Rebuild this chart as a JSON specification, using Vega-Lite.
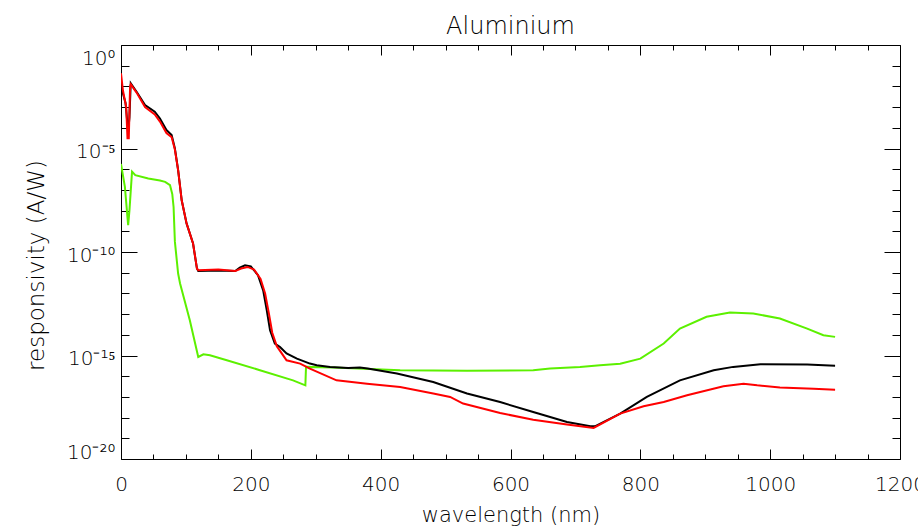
{
  "$schema": "https://vega.github.io/schema/vega-lite/v6.json",
  "width": 779,
  "height": 414,
  "autosize": "none",
  "padding": {"left": 121, "top": 45, "right": 18, "bottom": 71},
  "background": "white",
  "title": {"text": "Aluminium", "fontSize": 24, "font": "DejaVu Sans", "fontWeight": 200, "color": "#000", "anchor": "middle", "baseline": "alphabetic", "offset": 13, "dy": 26},
  "config": {
    "view": {"stroke": null},
    "axis": {"grid": false, "domainColor": "#000", "domainWidth": 1, "tickColor": "#000", "tickWidth": 1, "labelFont": "DejaVu Sans", "labelFontWeight": 200, "labelColor": "#000", "labelFontSize": 20, "titleFont": "DejaVu Sans", "titleFontWeight": 200, "titleColor": "#000", "titleFontSize": 21}
  },
  "datasets": {
    "black": [
      {"wl": 0, "r": 1e-2}, {"wl": 7, "r": 1.585e-3}, {"wl": 11, "r": 6.31e-5}, {"wl": 13, "r": 3.16e-4}, {"wl": 15, "r": 1.413e-2},
      {"wl": 24, "r": 5.5e-3}, {"wl": 37, "r": 1.26e-3}, {"wl": 52, "r": 6.03e-4}, {"wl": 60, "r": 2.82e-4}, {"wl": 70, "r": 7.76e-5},
      {"wl": 78, "r": 4.47e-5}, {"wl": 83, "r": 1e-5}, {"wl": 88, "r": 9.12e-7}, {"wl": 93.5, "r": 3.16e-8}, {"wl": 101, "r": 2.4e-9},
      {"wl": 111, "r": 2.57e-10}, {"wl": 117, "r": 1.585e-11}, {"wl": 119, "r": 1.2e-11}, {"wl": 150, "r": 1.26e-11}, {"wl": 176, "r": 1.2e-11},
      {"wl": 183, "r": 1.78e-11}, {"wl": 191, "r": 2.29e-11}, {"wl": 200, "r": 2.0e-11}, {"wl": 211, "r": 7.59e-12}, {"wl": 219, "r": 1.41e-12},
      {"wl": 224.5, "r": 1.55e-13}, {"wl": 229.6, "r": 1.66e-14}, {"wl": 237, "r": 3.8e-15}, {"wl": 245, "r": 2.57e-15}, {"wl": 255, "r": 1.26e-15},
      {"wl": 271, "r": 7.08e-16}, {"wl": 291, "r": 4.07e-16}, {"wl": 301.5, "r": 3.39e-16}, {"wl": 322, "r": 2.82e-16}, {"wl": 350, "r": 2.51e-16},
      {"wl": 368, "r": 2.6e-16}, {"wl": 380, "r": 2.34e-16}, {"wl": 425, "r": 1.35e-16}, {"wl": 481, "r": 5.25e-17}, {"wl": 533, "r": 1.45e-17},
      {"wl": 584, "r": 5.62e-18}, {"wl": 635, "r": 1.86e-18}, {"wl": 687, "r": 6.17e-19}, {"wl": 723, "r": 3.8e-19}, {"wl": 730, "r": 3.8e-19},
      {"wl": 769, "r": 1.55e-18}, {"wl": 810, "r": 1e-17}, {"wl": 861, "r": 6.31e-17}, {"wl": 913, "r": 1.95e-16}, {"wl": 943, "r": 2.82e-16},
      {"wl": 985, "r": 3.8e-16}, {"wl": 1057, "r": 3.63e-16}, {"wl": 1100, "r": 3.16e-16}
    ],
    "red": [
      {"wl": 0, "r": 4.27e-2}, {"wl": 3, "r": 6.31e-3}, {"wl": 8, "r": 1e-3}, {"wl": 10, "r": 3.16e-5}, {"wl": 12, "r": 3.16e-5},
      {"wl": 14, "r": 1e-2}, {"wl": 15, "r": 1.26e-2}, {"wl": 24, "r": 5.01e-3}, {"wl": 37, "r": 1e-3}, {"wl": 52, "r": 4.47e-4},
      {"wl": 60, "r": 2e-4}, {"wl": 70, "r": 5.62e-5}, {"wl": 78, "r": 3.55e-5}, {"wl": 83, "r": 8.91e-6}, {"wl": 88, "r": 9.12e-7},
      {"wl": 93.5, "r": 3.16e-8}, {"wl": 101, "r": 2.4e-9}, {"wl": 111, "r": 2.57e-10}, {"wl": 117, "r": 1.585e-11}, {"wl": 119, "r": 1.32e-11},
      {"wl": 150, "r": 1.41e-11}, {"wl": 176, "r": 1.2e-11}, {"wl": 185, "r": 1.585e-11}, {"wl": 195, "r": 1.9e-11}, {"wl": 205, "r": 1.41e-11},
      {"wl": 215, "r": 5.01e-12}, {"wl": 222, "r": 1e-12}, {"wl": 228, "r": 1e-13}, {"wl": 233, "r": 1.26e-14}, {"wl": 240, "r": 2.82e-15},
      {"wl": 255, "r": 5.89e-16}, {"wl": 276, "r": 4.07e-16}, {"wl": 291, "r": 2.34e-16}, {"wl": 332, "r": 6.31e-17}, {"wl": 379, "r": 4.37e-17},
      {"wl": 430, "r": 3.02e-17}, {"wl": 481, "r": 1.45e-17}, {"wl": 507, "r": 1e-17}, {"wl": 527, "r": 4.79e-18}, {"wl": 584, "r": 1.66e-18},
      {"wl": 635, "r": 7.94e-19}, {"wl": 687, "r": 4.68e-19}, {"wl": 728, "r": 3.16e-19}, {"wl": 769, "r": 1.55e-18}, {"wl": 805, "r": 3.55e-18},
      {"wl": 836, "r": 5.62e-18}, {"wl": 872, "r": 1.2e-17}, {"wl": 928, "r": 3.24e-17}, {"wl": 959, "r": 4.37e-17}, {"wl": 980, "r": 3.63e-17},
      {"wl": 1015, "r": 2.82e-17}, {"wl": 1067, "r": 2.51e-17}, {"wl": 1100, "r": 2.24e-17}
    ],
    "green": [
      {"wl": 0, "r": 1.78e-6}, {"wl": 6, "r": 1.41e-7}, {"wl": 11, "r": 2e-9}, {"wl": 13, "r": 1e-8}, {"wl": 17, "r": 7.59e-7},
      {"wl": 22, "r": 5.13e-7}, {"wl": 42, "r": 3.55e-7}, {"wl": 60, "r": 2.82e-7}, {"wl": 68, "r": 2.45e-7}, {"wl": 75.5, "r": 1.7e-7},
      {"wl": 79, "r": 6.3e-8}, {"wl": 81, "r": 1.5e-8}, {"wl": 83, "r": 3.16e-10}, {"wl": 88, "r": 9.12e-12}, {"wl": 91, "r": 3.02e-12}, {"wl": 106, "r": 5.01e-14},
      {"wl": 119, "r": 8.51e-16}, {"wl": 127, "r": 1.15e-15}, {"wl": 137, "r": 1.02e-15}, {"wl": 163, "r": 5.89e-16}, {"wl": 214, "r": 1.95e-16},
      {"wl": 265, "r": 6.31e-17}, {"wl": 284, "r": 3.63e-17}, {"wl": 285, "r": 2.82e-16}, {"wl": 327, "r": 2.63e-16}, {"wl": 430, "r": 1.95e-16},
      {"wl": 533, "r": 1.82e-16}, {"wl": 635, "r": 1.95e-16}, {"wl": 661, "r": 2.34e-16}, {"wl": 707, "r": 2.82e-16}, {"wl": 738, "r": 3.39e-16},
      {"wl": 769, "r": 4.0e-16}, {"wl": 800, "r": 7.08e-16}, {"wl": 836, "r": 3.8e-15}, {"wl": 861, "r": 2e-14}, {"wl": 902, "r": 7.41e-14},
      {"wl": 938, "r": 1.2e-13}, {"wl": 974, "r": 1.07e-13}, {"wl": 1015, "r": 6.17e-14}, {"wl": 1057, "r": 2e-14}, {"wl": 1082, "r": 9.55e-15},
      {"wl": 1100, "r": 7.94e-15}
    ]
  },
  "layer": [
    {
      "data": {"name": "green"},
      "mark": {"type": "line", "color": "#5cf000", "strokeWidth": 2, "clip": true},
      "encoding": {
        "x": {"field": "wl", "type": "quantitative", "scale": {"domain": [0, 1200], "nice": false, "zero": false}, "axis": null},
        "y": {"field": "r", "type": "quantitative", "scale": {"type": "log", "domain": [1e-20, 1], "nice": false}, "axis": null}
      }
    },
    {
      "data": {"name": "black"},
      "mark": {"type": "line", "color": "#000000", "strokeWidth": 2, "clip": true},
      "encoding": {
        "x": {"field": "wl", "type": "quantitative", "scale": {"domain": [0, 1200], "nice": false, "zero": false},
          "axis": {"orient": "bottom", "title": "wavelength (nm)",
            "values": [0, 50, 100, 150, 200, 250, 300, 350, 400, 450, 500, 550, 600, 650, 700, 750, 800, 850, 900, 950, 1000, 1050, 1100, 1150, 1200],
            "tickSize": {"condition": {"test": "datum.value % 200 === 0", "value": -10}, "value": -5},
            "labelExpr": "datum.value % 200 === 0 ? format(datum.value, 'd') : ''",
            "labelFlush": false, "labelOverlap": false, "labelPadding": 25, "titlePadding": 5}},
        "y": {"field": "r", "type": "quantitative", "scale": {"type": "log", "domain": [1e-20, 1], "nice": false},
          "axis": {"orient": "left", "title": "responsivity (A/W)", "titleFontSize": 23, "titleY": 220,
            "values": [1, 1e-1, 1e-2, 1e-3, 1e-4, 1e-5, 1e-6, 1e-7, 1e-8, 1e-9, 1e-10, 1e-11, 1e-12, 1e-13, 1e-14, 1e-15, 1e-16, 1e-17, 1e-18, 1e-19, 1e-20],
            "tickSize": {"condition": {"test": "abs(round(log(datum.value)/LN10)) % 5 === 0", "value": -16}, "value": -8},
            "labelExpr": "round(log(datum.value)/LN10) === 0 ? '10⁰' : round(log(datum.value)/LN10) === -5 ? '10⁻⁵' : round(log(datum.value)/LN10) === -10 ? '10⁻¹⁰' : round(log(datum.value)/LN10) === -15 ? '10⁻¹⁵' : round(log(datum.value)/LN10) === -20 ? '10⁻²⁰' : ''",
            "labelFlush": true, "labelOverlap": false, "labelPadding": 22, "labelOffset": 3, "titlePadding": 18}}
      }
    },
    {
      "data": {"name": "red"},
      "mark": {"type": "line", "color": "#ff0000", "strokeWidth": 2, "clip": true},
      "encoding": {
        "x": {"field": "wl", "type": "quantitative", "scale": {"domain": [0, 1200], "nice": false, "zero": false},
          "axis": {"orient": "top", "title": null, "labels": false,
            "values": [0, 50, 100, 150, 200, 250, 300, 350, 400, 450, 500, 550, 600, 650, 700, 750, 800, 850, 900, 950, 1000, 1050, 1100, 1150, 1200],
            "tickSize": {"condition": {"test": "datum.value % 200 === 0", "value": -10}, "value": -5}}},
        "y": {"field": "r", "type": "quantitative", "scale": {"type": "log", "domain": [1e-20, 1], "nice": false},
          "axis": {"orient": "right", "title": null, "labels": false,
            "values": [1, 1e-1, 1e-2, 1e-3, 1e-4, 1e-5, 1e-6, 1e-7, 1e-8, 1e-9, 1e-10, 1e-11, 1e-12, 1e-13, 1e-14, 1e-15, 1e-16, 1e-17, 1e-18, 1e-19, 1e-20],
            "tickSize": {"condition": {"test": "abs(round(log(datum.value)/LN10)) % 5 === 0", "value": -16}, "value": -8}}}
      }
    }
  ],
  "resolve": {"axis": {"x": "independent", "y": "independent"}}
}
